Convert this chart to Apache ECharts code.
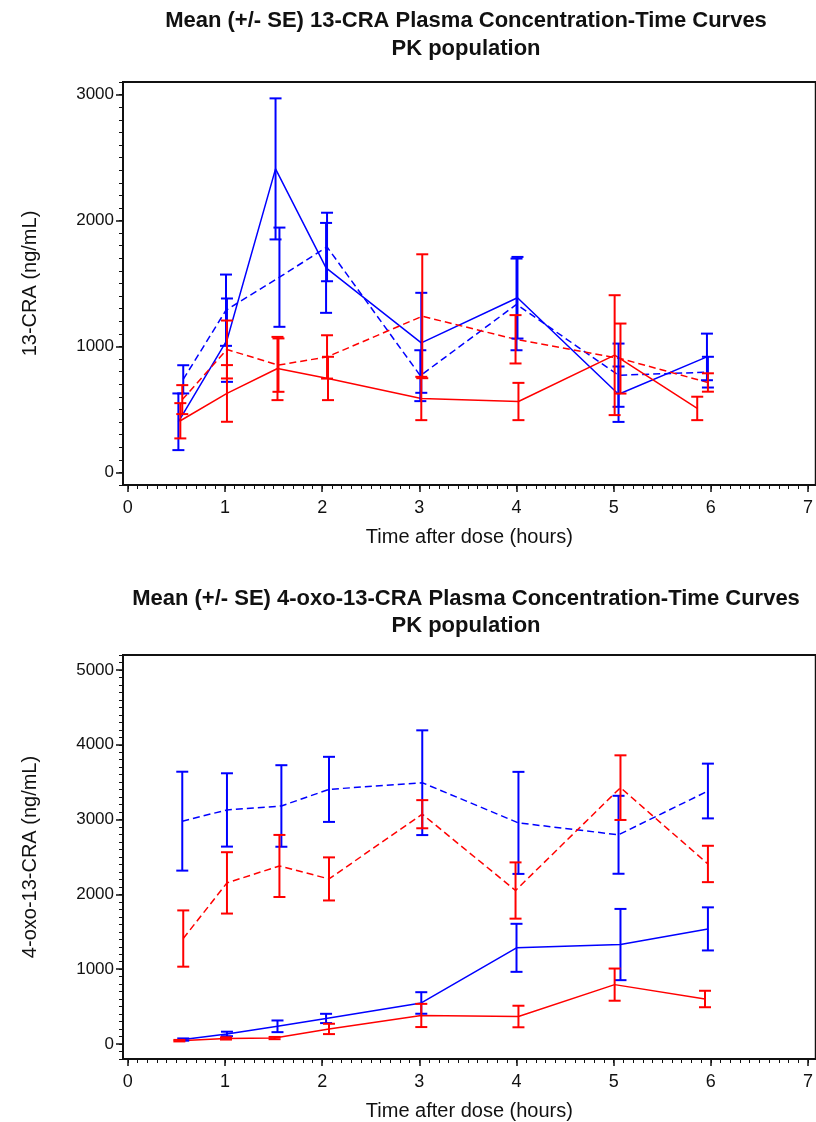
<!DOCTYPE html>
<html>
<head>
<meta charset="utf-8">
<script src="https://cdn.jsdelivr.net/npm/echarts@6/dist/echarts.min.js"></script>
<style>
  html, body { margin: 0; padding: 0; background: #fff; }
  #chart { width: 816px; height: 1122px; }
</style>
</head>
<body>
<div id="chart"></div>
<script>
// sampling times (hours) as plotted, each group slightly offset
const topTimeBlueSolid = [0.52, 1.02, 1.52, 2.04, 3.02, 4.01, 5.05, 5.96];
const topTimeBlueDash  = [0.57, 1.01, 1.56, 2.05, 3.01, 4.00, 5.05, 5.97];
const topTimeRedSolid  = [0.54, 1.02, 1.54, 2.06, 3.02, 4.02, 5.01, 5.86];
const topTimeRedDash   = [0.56, 1.02, 1.55, 2.05, 3.03, 3.99, 5.07, 5.97];

// 13-CRA means and SE (ng/mL)
const craBlueSolid   = [402, 1050, 2410, 1624, 1029, 1387, 621, 917];
const craBlueSolidSE = [225, 331, 560, 357, 397, 324, 220, 185];
const craBlueDash    = [739, 1288, 1550, 1790, 768, 1334, 772, 796];
const craBlueDashSE  = [112, 283, 394, 272, 202, 364, 251, 122];
const craRedSolid    = [410, 627, 825, 746, 587, 563, 931, 508];
const craRedSolidSE  = [140, 225, 251, 172, 172, 148, 476, 93];
const craRedDash     = [578, 976, 852, 917, 1240, 1057, 904, 714];
const craRedDashSE   = [115, 230, 212, 172, 492, 192, 278, 73];

const botTimeBlueSolid = [0.57, 1.02, 1.54, 2.04, 3.02, 4.00, 5.07, 5.97];
const botTimeBlueDash  = [0.56, 1.02, 1.58, 2.07, 3.03, 4.02, 5.05, 5.97];
const botTimeRedSolid  = [0.53, 1.01, 1.51, 2.07, 3.02, 4.02, 5.01, 5.94];
const botTimeRedDash   = [0.57, 1.02, 1.56, 2.07, 3.03, 3.99, 5.07, 5.97];

// 4-oxo-13-CRA means and SE (ng/mL)
const oxoBlueSolid   = [60, 135, 237, 342, 549, 1286, 1330, 1539];
const oxoBlueSolidSE = [15, 30, 78, 62, 144, 321, 476, 288];
const oxoBlueDash    = [2979, 3129, 3182, 3404, 3493, 2956, 2797, 3382];
const oxoBlueDashSE  = [661, 490, 545, 435, 700, 682, 521, 366];
const oxoRedSolid    = [45, 75, 80, 202, 382, 368, 794, 602];
const oxoRedSolidSE  = [10, 15, 15, 69, 155, 144, 215, 110];
const oxoRedDash     = [1410, 2154, 2380, 2207, 3072, 2052, 3427, 2407];
const oxoRedDashSE   = [376, 410, 415, 288, 188, 376, 432, 243];

// tick labels
const xMajor = [0, 1, 2, 3, 4, 5, 6, 7];
const topYMajor = [0, 1000, 2000, 3000];
const botYMajor = [0, 1000, 2000, 3000, 4000, 5000];

const BLUE = '#0000ff';
const RED = '#ff0000';
const INK = '#111';
const FONT = '"Liberation Sans", Arial, sans-serif';

function steps(from, to, step) {
  const out = [];
  for (let i = Math.round(from / step); i <= Math.round(to / step); i++) {
    out.push(+(i * step).toFixed(3));
  }
  return out;
}

function xAxesFor(gridIndex) {
  const base = { type: 'value', gridIndex: gridIndex, position: 'bottom', min: -0.05, max: 7.08, splitLine: { show: false } };
  return [
    Object.assign({}, base, {
      name: 'Time after dose (hours)',
      nameLocation: 'middle',
      nameGap: 42,
      nameTextStyle: { color: INK, fontSize: 20, fontFamily: FONT },
      axisLine: { show: true, onZero: false, lineStyle: { color: INK, width: 2 } },
      axisTick: { show: true, length: 7, customValues: xMajor, lineStyle: { color: INK, width: 1.5 } },
      axisLabel: { show: true, customValues: xMajor, margin: 14, color: INK, fontSize: 18, fontFamily: FONT,
                   formatter: v => String(v) }
    }),
    Object.assign({}, base, {
      axisLine: { show: false, onZero: false },
      axisTick: { show: true, length: 4, customValues: steps(0, 7, 0.1), lineStyle: { color: INK, width: 1 } },
      axisLabel: { show: false }
    })
  ];
}

function yAxesFor(gridIndex, min, max, major, name) {
  const base = { type: 'value', gridIndex: gridIndex, position: 'left', min: min, max: max, splitLine: { show: false } };
  return [
    Object.assign({}, base, {
      name: name,
      nameLocation: 'middle',
      nameGap: 83,
      nameTextStyle: { color: INK, fontSize: 20, fontFamily: FONT },
      axisLine: { show: true, onZero: false, lineStyle: { color: INK, width: 2 } },
      axisTick: { show: true, length: 7, customValues: major, lineStyle: { color: INK, width: 1.5 } },
      axisLabel: { show: true, customValues: major, margin: 9, color: INK, fontSize: 17, fontFamily: FONT,
                   formatter: v => String(v) }
    }),
    Object.assign({}, base, {
      axisLine: { show: false, onZero: false },
      axisTick: { show: true, length: 4, customValues: steps(min, max, 100), lineStyle: { color: INK, width: 1 } },
      axisLabel: { show: false }
    })
  ];
}

function lineSeries(xi, yi, times, means, color, dashed) {
  return {
    type: 'line',
    xAxisIndex: xi,
    yAxisIndex: yi,
    data: times.map((t, i) => [t, means[i]]),
    symbol: 'none',
    silent: true,
    animation: false,
    lineStyle: { color: color, width: 1.5, type: dashed ? [7, 4] : 'solid' },
    z: 3
  };
}

function errorSeries(xi, yi, times, means, se, color) {
  return {
    type: 'custom',
    xAxisIndex: xi,
    yAxisIndex: yi,
    data: times.map((t, i) => [t, means[i] - se[i], means[i] + se[i]]),
    silent: true,
    animation: false,
    z: 4,
    renderItem: function (params, api) {
      const lo = api.coord([api.value(0), api.value(1)]);
      const hi = api.coord([api.value(0), api.value(2)]);
      const half = 6;
      const style = { stroke: color, lineWidth: 2, fill: null };
      return {
        type: 'group',
        children: [
          { type: 'line', shape: { x1: lo[0], y1: lo[1], x2: hi[0], y2: hi[1] }, style: style },
          { type: 'line', shape: { x1: lo[0] - half, y1: lo[1], x2: lo[0] + half, y2: lo[1] }, style: style },
          { type: 'line', shape: { x1: hi[0] - half, y1: hi[1], x2: hi[0] + half, y2: hi[1] }, style: style }
        ]
      };
    }
  };
}

function titleText(y, text) {
  return {
    type: 'text',
    x: 466,
    y: y,
    style: { text: text, textAlign: 'center', textVerticalAlign: 'top', fill: INK, font: 'bold 22px ' + FONT }
  };
}

const chart = echarts.init(document.getElementById('chart'), null, { renderer: 'canvas' });

chart.setOption({
  backgroundColor: '#fff',
  animation: false,
  graphic: [
    titleText(10, 'Mean (+/- SE) 13-CRA Plasma Concentration-Time Curves'),
    titleText(38, 'PK population'),
    titleText(588, 'Mean (+/- SE) 4-oxo-13-CRA Plasma Concentration-Time Curves'),
    titleText(615, 'PK population')
  ],
  grid: [
    { left: 123, top: 82, right: -2, height: 403, show: true, borderColor: INK, borderWidth: 2, backgroundColor: 'transparent' },
    { left: 123, top: 655, right: -2, height: 406, show: true, borderColor: INK, borderWidth: 2, backgroundColor: 'transparent' }
  ],
  xAxis: xAxesFor(0).concat(xAxesFor(1)),
  yAxis: yAxesFor(0, -100, 3100, topYMajor, '13-CRA (ng/mL)')
    .concat(yAxesFor(1, -200, 5200, botYMajor, '4-oxo-13-CRA (ng/mL)')),
  series: [
    lineSeries(0, 0, topTimeBlueSolid, craBlueSolid, BLUE, false),
    lineSeries(0, 0, topTimeBlueDash, craBlueDash, BLUE, true),
    lineSeries(0, 0, topTimeRedSolid, craRedSolid, RED, false),
    lineSeries(0, 0, topTimeRedDash, craRedDash, RED, true),
    errorSeries(0, 0, topTimeBlueSolid, craBlueSolid, craBlueSolidSE, BLUE),
    errorSeries(0, 0, topTimeBlueDash, craBlueDash, craBlueDashSE, BLUE),
    errorSeries(0, 0, topTimeRedSolid, craRedSolid, craRedSolidSE, RED),
    errorSeries(0, 0, topTimeRedDash, craRedDash, craRedDashSE, RED),

    lineSeries(2, 2, botTimeBlueSolid, oxoBlueSolid, BLUE, false),
    lineSeries(2, 2, botTimeBlueDash, oxoBlueDash, BLUE, true),
    lineSeries(2, 2, botTimeRedSolid, oxoRedSolid, RED, false),
    lineSeries(2, 2, botTimeRedDash, oxoRedDash, RED, true),
    errorSeries(2, 2, botTimeBlueSolid, oxoBlueSolid, oxoBlueSolidSE, BLUE),
    errorSeries(2, 2, botTimeBlueDash, oxoBlueDash, oxoBlueDashSE, BLUE),
    errorSeries(2, 2, botTimeRedSolid, oxoRedSolid, oxoRedSolidSE, RED),
    errorSeries(2, 2, botTimeRedDash, oxoRedDash, oxoRedDashSE, RED)
  ]
});
</script>
</body>
</html>
